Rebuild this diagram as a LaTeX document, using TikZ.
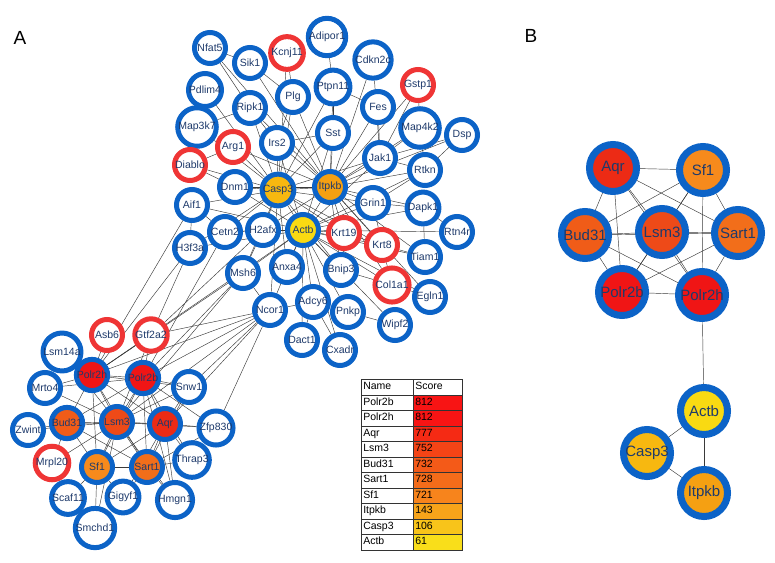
\documentclass[tikz,border=0pt]{standalone}
\usepackage{fontspec}
\setmainfont{Liberation Sans}
\usetikzlibrary{backgrounds}
\definecolor{ringblue}{HTML}{0C63C7}
\definecolor{ringred}{HTML}{EF3535}
\definecolor{navy}{HTML}{1E3A6B}
\definecolor{edgec}{HTML}{3A3A3A}
\definecolor{cCasp}{HTML}{F7B810}
\definecolor{cItpkb}{HTML}{F5A012}
\definecolor{cActb}{HTML}{F9DA12}
\definecolor{cPolr}{HTML}{F01515}
\definecolor{cAqr}{HTML}{EC2B15}
\definecolor{cLsm}{HTML}{EE4A18}
\definecolor{cBud}{HTML}{F05C18}
\definecolor{cSart}{HTML}{F26E1A}
\definecolor{cSf}{HTML}{F78A1C}
\definecolor{s1}{HTML}{F81414}
\definecolor{s3}{HTML}{F52A14}
\definecolor{s4}{HTML}{F44416}
\definecolor{s5}{HTML}{F45A18}
\definecolor{s6}{HTML}{F46C1A}
\definecolor{s7}{HTML}{F7841C}
\definecolor{s8}{HTML}{F7A41A}
\definecolor{s9}{HTML}{F8C41A}
\definecolor{s10}{HTML}{F9DE1A}
\tikzset{
  bn/.style={circle, draw=ringblue, line width=5pt, fill=white, minimum size=31pt, inner sep=0pt, text=navy, font=\fontsize{10.5}{11}\selectfont},
  rn/.style={bn, draw=ringred},
  bigb/.style={circle, draw=ringblue, line width=7pt, minimum size=47pt, inner sep=0pt, text=navy, font=\fontsize{15}{16}\selectfont},
  edge/.style={draw=edgec, line width=0.45pt},
  cellname/.style={draw=black!80, line width=0.6pt, anchor=north west, text width=48pt, text height=8pt, text depth=2.5pt, align=left, inner xsep=2pt, inner ysep=2.5pt, minimum height=15.5pt, font=\fontsize{10.5}{11}\selectfont},
  cellscore/.style={cellname, text width=45pt},
  panel/.style={font=\fontsize{19}{20}\selectfont}
}
\begin{document}
\begin{tikzpicture}[x=1pt,y=-1pt]
\useasboundingbox (0,0) rectangle (775,562);
\node[panel] (labA) at (20,38) {A};
\node[panel] (labB) at (531,36) {B};
% ---- top cluster
\node[bn] (Nfat5) at (210,48) {Nfat5};
\node[bn] (Sik1) at (250,63) {Sik1};
\node[rn] (Kcnj11) at (287,53) {Kcnj11};
\node[bn] (Adipor1) at (327,37) {Adipor1};
\node[bn] (Cdkn2c) at (373,60) {Cdkn2c};
\node[rn] (Gstp1) at (418,85) {Gstp1};
\node[bn] (Pdlim4) at (205,90) {Pdlim4};
\node[bn] (Plg) at (293,97) {Plg};
\node[bn] (Ptpn11) at (333,87) {Ptpn11};
\node[bn] (Fes) at (378,107) {Fes};
\node[bn] (Ripk1) at (250,108) {Ripk1};
\node[bn] (Map3k7) at (197,127) {Map3k7};
\node[bn] (Map4k2) at (420,128) {Map4k2};
\node[bn] (Dsp) at (462,135) {Dsp};
\node[rn] (Arg1) at (233,147) {Arg1};
\node[bn] (Irs2) at (277,143) {Irs2};
\node[bn] (Sst) at (333,133) {Sst};
\node[bn] (Jak1) at (380,158) {Jak1};
\node[rn] (Diablo) at (190,165) {Diablo};
\node[bn] (Rtkn) at (425,170) {Rtkn};
\node[bn] (Dnm1) at (235,187) {Dnm1};
\node[bn, fill=cCasp] (Casp3) at (278,190) {Casp3};
\node[bn, fill=cItpkb] (Itpkb) at (330,187) {Itpkb};
\node[bn] (Grin1) at (373,203) {Grin1};
\node[bn] (Dapk1) at (423,208) {Dapk1};
\node[bn] (Aif1) at (192,205) {Aif1};
\node[bn] (Cetn2) at (225,232) {Cetn2};
\node[bn] (H2afx) at (263,230) {H2afx};
\node[bn, fill=cActb] (Actb) at (303,230) {Actb};
\node[rn] (Krt19) at (344,233) {Krt19};
\node[bn] (Rtn4r) at (457,232) {Rtn4r};
\node[rn] (Krt8) at (382,245) {Krt8};
\node[bn] (H3f3a) at (190,248) {H3f3a};
\node[bn] (Tiam1) at (425,257) {Tiam1};
\node[bn] (Msh6) at (243,273) {Msh6};
\node[bn] (Anxa4) at (287,267) {Anxa4};
\node[bn] (Bnip3) at (341,270) {Bnip3};
\node[rn] (Col1a1) at (392,285) {Col1a1};
\node[bn] (Egln1) at (430,297) {Egln1};
\node[bn] (Ncor1) at (270,310) {Ncor1};
\node[bn] (Adcy6) at (313,302) {Adcy6};
\node[bn] (Pnkp) at (348,312) {Pnkp};
\node[bn] (Wipf2) at (395,325) {Wipf2};
\node[bn] (Dact1) at (302,340) {Dact1};
\node[bn] (Cxadr) at (340,350) {Cxadr};
% ---- bottom cluster
\node[rn] (Asb6) at (107,335) {Asb6};
\node[rn] (Gtf2a2) at (151,335) {Gtf2a2};
\node[bn] (Lsm14a) at (62,352) {Lsm14a};
\node[bn, fill=cPolr] (Polr2h) at (92,375) {Polr2h};
\node[bn, fill=cPolr] (Polr2b) at (143,378) {Polr2b};
\node[bn] (Mrto4) at (45,388) {Mrto4};
\node[bn] (Snw1) at (189,387) {Snw1};
\node[bn, fill=cBud] (Bud31) at (67,423) {Bud31};
\node[bn, fill=cLsm] (Lsm3) at (117,422) {Lsm3};
\node[bn, fill=cAqr] (Aqr) at (165,424) {Aqr};
\node[bn] (Zwint) at (28,430) {Zwint};
\node[bn] (Zfp830) at (216,428) {Zfp830};
\node[rn] (Mrpl20) at (52,463) {Mrpl20};
\node[bn, fill=cSf] (Sf1) at (97,467) {Sf1};
\node[bn, fill=cSart] (Sart1) at (147,467) {Sart1};
\node[bn] (Thrap3) at (192,460) {Thrap3};
\node[bn] (Scaf11) at (68,498) {Scaf11};
\node[bn] (Gigyf1) at (123,497) {Gigyf1};
\node[bn] (Hmgn1) at (175,500) {Hmgn1};
\node[bn] (Smchd1) at (95,528) {Smchd1};
% ---- panel B
\node[bigb, fill=cAqr] (AqrB) at (613,168) {Aqr};
\node[bigb, fill=cSf] (Sf1B) at (703,170) {Sf1};
\node[bigb, fill=cBud] (Bud31B) at (585,235) {Bud31};
\node[bigb, fill=cLsm] (Lsm3B) at (662,232) {Lsm3};
\node[bigb, fill=cSart] (Sart1B) at (738,233) {Sart1};
\node[bigb, fill=cPolr] (Polr2bB) at (622,292) {Polr2b};
\node[bigb, fill=cPolr] (Polr2hB) at (702,295) {Polr2h};
\node[bigb, fill=cActb] (ActbB) at (704,411) {Actb};
\node[bigb, fill=cCasp] (Casp3B) at (647,453) {Casp3};
\node[bigb, fill=cItpkb] (ItpkbB) at (704,493) {Itpkb};
% ---- table
\foreach \n/\s/\c [count=\i from 0] in {Name/Score/white, Polr2b/812/s1, Polr2h/812/s1, Aqr/777/s3, Lsm3/752/s4, Bud31/732/s5, Sart1/728/s6, Sf1/721/s7, Itpkb/143/s8, Casp3/106/s9, Actb/61/s10}{
  \node[cellname] (tn\i) at (361,{379+15.5*\i}) {\n};
  \node[cellscore, fill=\c] (ts\i) at (413,{379+15.5*\i}) {\s};
}
% ---- edges
\begin{scope}[on background layer]
\foreach \a/\b in {Casp3/Diablo, Casp3/Arg1, Casp3/Irs2, Casp3/Dnm1, Casp3/Aif1, Casp3/Ripk1, Casp3/Map3k7, Casp3/Plg, Casp3/Sst, Casp3/Jak1, Casp3/Itpkb, Casp3/Actb, Casp3/H2afx, Casp3/Cetn2, Casp3/Msh6, Casp3/Krt19, Casp3/Grin1, Casp3/Bnip3, Casp3/Anxa4, Casp3/Pdlim4, Casp3/Ptpn11, Casp3/Kcnj11, Casp3/Krt8, Casp3/Ncor1, Casp3/H3f3a,
  Itpkb/Sst, Itpkb/Ptpn11, Itpkb/Fes, Itpkb/Jak1, Itpkb/Grin1, Itpkb/Rtkn, Itpkb/Dapk1, Itpkb/Krt19, Itpkb/Krt8, Itpkb/Tiam1, Itpkb/Col1a1, Itpkb/Map4k2, Itpkb/Gstp1, Itpkb/Cdkn2c, Itpkb/Dsp, Itpkb/Irs2, Itpkb/Plg, Itpkb/Sik1, Itpkb/Actb, Itpkb/Egln1, Itpkb/Bnip3, Itpkb/Nfat5, Itpkb/Arg1, Itpkb/Dnm1, Itpkb/Ripk1, Itpkb/H2afx,
  Actb/H2afx, Actb/Cetn2, Actb/Anxa4, Actb/Krt19, Actb/Krt8, Actb/Bnip3, Actb/Col1a1, Actb/Adcy6, Actb/Msh6, Actb/Ncor1, Actb/Aif1, Actb/H3f3a, Actb/Dact1, Actb/Cxadr, Actb/Wipf2, Actb/Pnkp, Actb/Tiam1, Actb/Dapk1, Actb/Egln1, Actb/Dnm1, Actb/Grin1, Actb/Irs2, Actb/Sst, Actb/Jak1, Actb/Rtkn, Actb/Rtn4r,
  Nfat5/Sik1, Sik1/Plg, Adipor1/Ptpn11, Ptpn11/Sst, Ptpn11/Fes, Cdkn2c/Jak1, Fes/Jak1, Gstp1/Map4k2, Gstp1/Jak1, Map4k2/Jak1, Map4k2/Rtkn, Dsp/Rtkn, Dsp/Jak1, Rtkn/Jak1, Rtkn/Grin1, Dapk1/Tiam1, Dapk1/Rtn4r, Dapk1/Grin1, Grin1/Krt8, Krt19/Krt8, Krt8/Col1a1, Col1a1/Bnip3, Cetn2/H2afx, H2afx/Msh6, Cetn2/Aif1, H3f3a/Aif1, Adcy6/Dact1, Adcy6/Cxadr, Ncor1/Msh6, Ncor1/Adcy6, Pnkp/Wipf2, Irs2/Plg, Irs2/Ripk1, Sst/Irs2, Map3k7/Ripk1, Arg1/Diablo, Dnm1/Diablo, Tiam1/Krt8, Egln1/Col1a1, Kcnj11/Plg, Nfat5/Ripk1,
  Ncor1/Polr2b, Ncor1/Polr2h, Ncor1/Gtf2a2, Ncor1/Snw1, Ncor1/Zfp830, Ncor1/Lsm3, Ncor1/Aqr, H3f3a/Polr2h, H3f3a/Gtf2a2, Msh6/Polr2b, Msh6/Polr2h, Aif1/Polr2h, Cetn2/Polr2b, Actb/Polr2h, H2afx/Gtf2a2, Msh6/Lsm3,
  Polr2h/Polr2b, Polr2h/Bud31, Polr2h/Lsm3, Polr2h/Aqr, Polr2h/Sf1, Polr2h/Sart1, Polr2b/Bud31, Polr2b/Lsm3, Polr2b/Aqr, Polr2b/Sf1, Polr2b/Sart1, Bud31/Lsm3, Bud31/Aqr, Bud31/Sf1, Bud31/Sart1, Lsm3/Aqr, Lsm3/Sf1, Lsm3/Sart1, Aqr/Sf1, Aqr/Sart1, Sf1/Sart1,
  Lsm14a/Polr2h, Lsm14a/Lsm3, Mrto4/Polr2h, Mrto4/Polr2b, Mrto4/Lsm3, Zwint/Bud31, Zwint/Lsm3, Mrpl20/Bud31, Mrpl20/Lsm3, Scaf11/Sf1, Smchd1/Sf1, Smchd1/Lsm3, Gigyf1/Sf1, Gigyf1/Sart1, Gigyf1/Aqr, Hmgn1/Aqr, Hmgn1/Lsm3, Hmgn1/Sart1, Hmgn1/Polr2b, Thrap3/Aqr, Thrap3/Sart1, Thrap3/Polr2b, Zfp830/Aqr, Zfp830/Polr2b, Zfp830/Lsm3, Zfp830/Sart1, Snw1/Polr2b, Snw1/Aqr, Snw1/Lsm3, Snw1/Sart1, Snw1/Polr2h, Asb6/Polr2h, Gtf2a2/Polr2b, Gtf2a2/Polr2h, Gtf2a2/Lsm3,
  AqrB/Sf1B, AqrB/Bud31B, AqrB/Lsm3B, AqrB/Sart1B, AqrB/Polr2bB, AqrB/Polr2hB, Sf1B/Bud31B, Sf1B/Lsm3B, Sf1B/Sart1B, Sf1B/Polr2bB, Sf1B/Polr2hB, Bud31B/Lsm3B, Bud31B/Sart1B, Bud31B/Polr2bB, Bud31B/Polr2hB, Lsm3B/Sart1B, Lsm3B/Polr2bB, Lsm3B/Polr2hB, Sart1B/Polr2bB, Sart1B/Polr2hB, Polr2bB/Polr2hB,
  Polr2hB/ActbB, ActbB/Casp3B, ActbB/ItpkbB, Casp3B/ItpkbB}
  \draw[edge] (\a) -- (\b);
\end{scope}
\end{tikzpicture}
\end{document}
